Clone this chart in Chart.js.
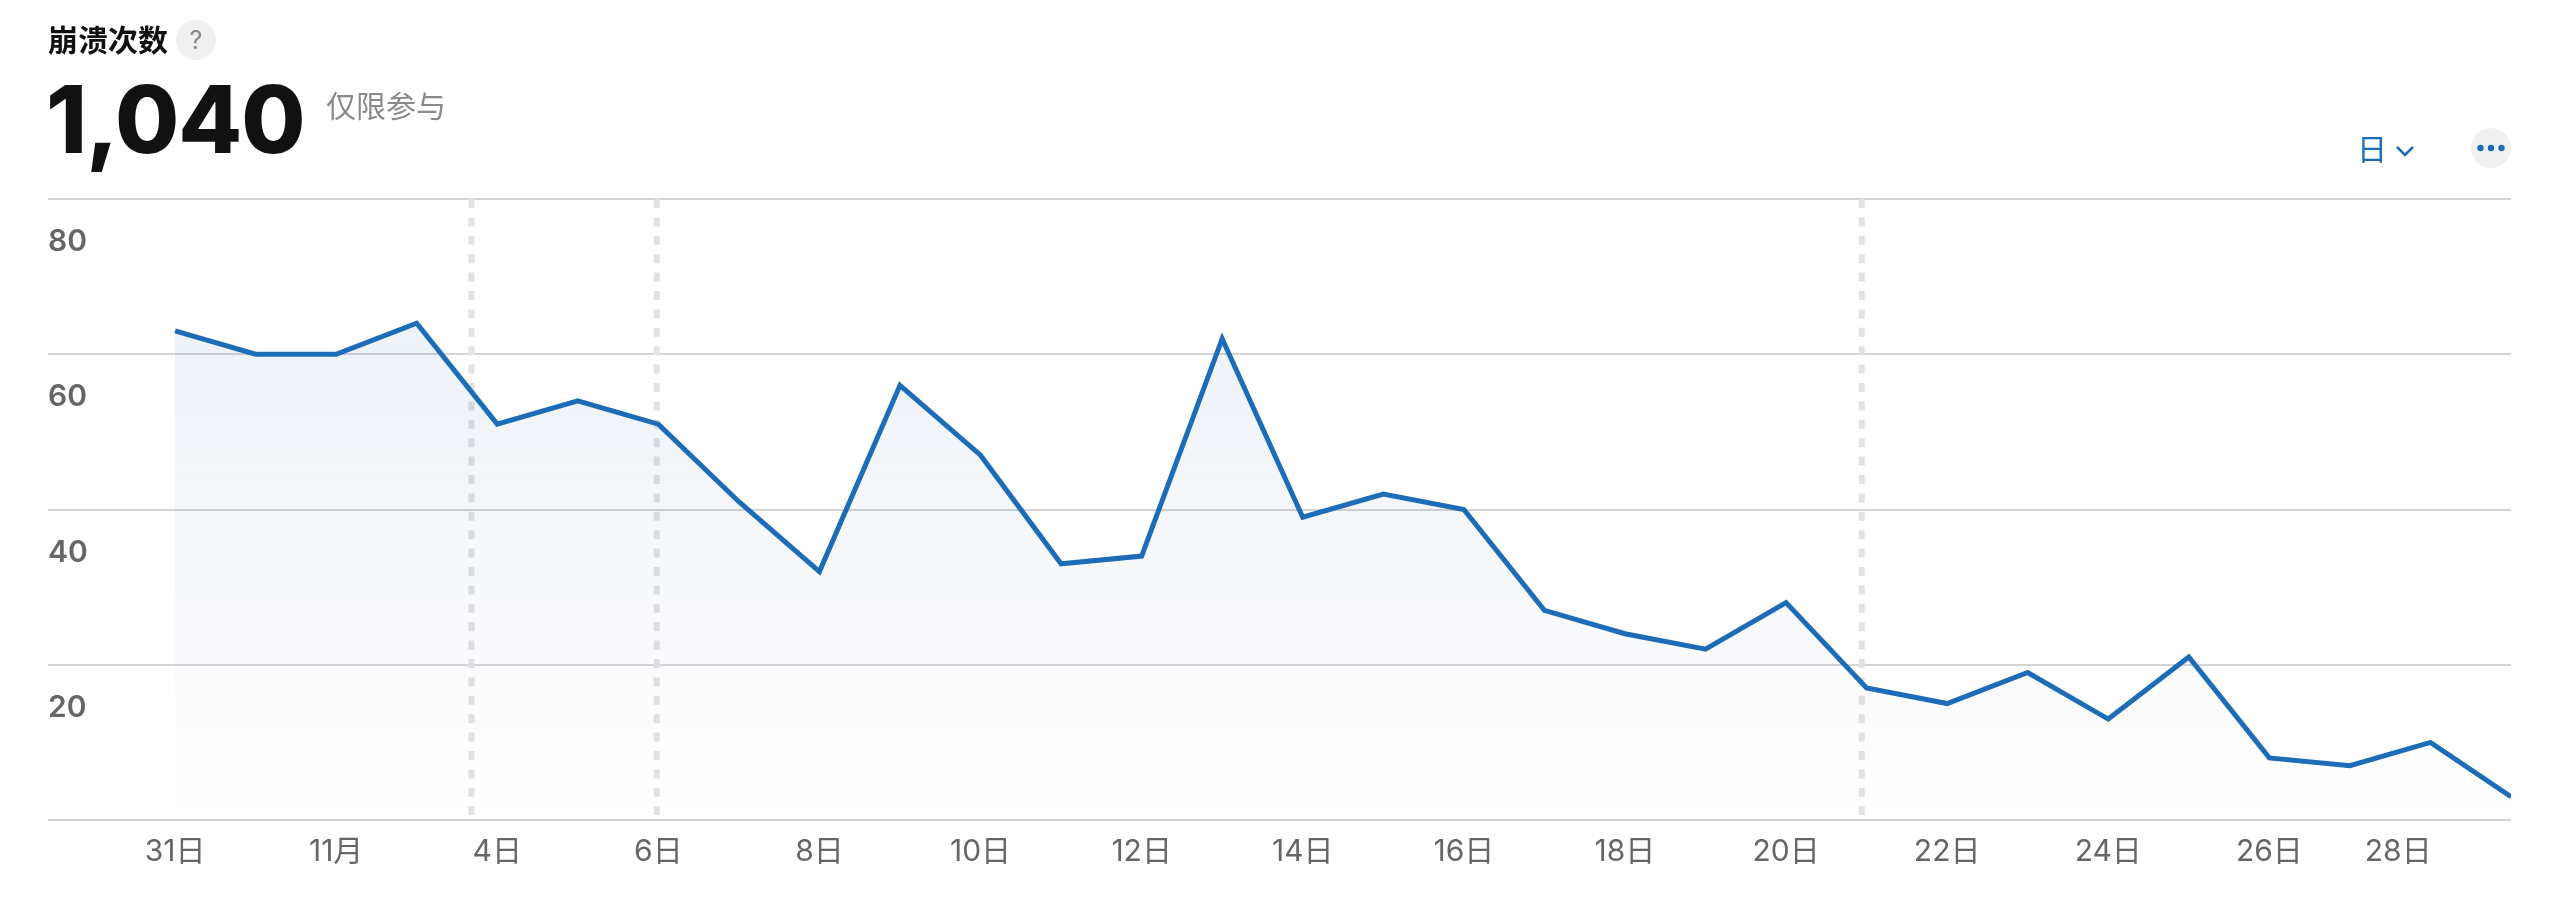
<!DOCTYPE html>
<html lang="zh">
<head>
<meta charset="utf-8">
<title>崩溃次数</title>
<script src="https://cdn.jsdelivr.net/npm/chart.js@4"></script>
<style>
  html, body { margin: 0; background: #fff; width: 2564px; height: 898px; overflow: hidden; }
  body { position: relative; font-family: Inter, "Noto Sans CJK SC", sans-serif; }
  canvas { position: absolute; left: 0; top: 0; }
  .abs { position: absolute; white-space: nowrap; line-height: 1; }
  #title { left: 48px; top: 25px; font-size: 30px; font-weight: 700; color: #111; }
  #help { left: 176px; top: 20px; width: 40px; height: 40px; border-radius: 50%; background: #f0f0f0; color: #8a8a8a; font-size: 25px; text-align: center; line-height: 40px; }
  #total { left: 46px; top: 73px; font-size: 93px; font-weight: 800; color: #111; letter-spacing: -1px; }
  #note { left: 326px; top: 91px; font-size: 30px; color: #8a8a8a; }
  #period { left: 2357px; top: 134px; font-size: 30px; color: #1c6cb8; }
  #chevron { left: 2396px; top: 145px; }
  #more { left: 2471px; top: 128px; width: 40px; height: 40px; border-radius: 50%; background: #f0f0f0; }
</style>
</head>
<body>
<canvas id="crashChart" width="2564" height="898"></canvas>
<div class="abs" id="title">崩溃次数</div>
<div class="abs" id="help">?</div>
<div class="abs" id="total">1,040</div>
<div class="abs" id="note">仅限参与</div>
<div class="abs" id="period">日</div>
<svg class="abs" id="chevron" width="18" height="12" viewBox="0 0 18 12"><path d="M1 2 L9 10 L17 2" fill="none" stroke="#1c6cb8" stroke-width="2.5"/></svg>
<div class="abs" id="more">
  <svg width="40" height="40" viewBox="0 0 40 40" fill="#1c6cb8"><circle cx="9.5" cy="20" r="3.2"/><circle cx="20" cy="20" r="3.2"/><circle cx="30.5" cy="20" r="3.2"/></svg>
</div>
<script>
const crashCounts = [63, 60, 60, 64, 51, 54, 51, 41, 32, 56, 47, 33, 34, 62, 39, 42, 40, 27, 24, 22, 28, 17, 15, 19, 13, 21, 8, 7, 10, 3];
const xTickValues = [0, 2, 4, 6, 8, 10, 12, 14, 16, 18, 20, 22, 24, 26, 27.6];
const xTickLabels = ['31日', '11月', '4日', '6日', '8日', '10日', '12日', '14日', '16日', '18日', '20日', '22日', '24日', '26日', '28日'];
const yTickValues = [0, 20, 40, 60, 80];
const yTickLabels = ['', '20', '40', '60', '80'];
const guideDays = [3.68, 5.98, 20.94];
const guideTop = 80;
const guideBottom = 0.65;

const lineColor = '#1c6cb8';

function areaFill(context) {
    const { ctx, chartArea } = context.chart;
    if (!chartArea) return 'transparent';
    const g = ctx.createLinearGradient(0, 300, 0, chartArea.bottom);
    g.addColorStop(0, 'rgba(28, 100, 180, 0.085)');
    g.addColorStop(0.5, 'rgba(40, 70, 130, 0.04)');
    g.addColorStop(1, 'rgba(40, 70, 130, 0)');
    return g;
}

const guideSets = guideDays.map(d => ({
    data: [{ x: d, y: guideTop }, { x: d, y: guideBottom }],
    borderColor: '#e2e2e2',
    borderWidth: 6,
    borderDash: [9, 9.4],
    pointRadius: 0,
    fill: false,
    order: 2
}));

new Chart(document.getElementById('crashChart'), {
    type: 'line',
    data: {
        datasets: [
            {
                data: crashCounts.map((v, i) => ({ x: i, y: v })),
                borderColor: lineColor,
                borderWidth: 5,
                backgroundColor: areaFill,
                fill: 'origin',
                tension: 0,
                pointRadius: 0,
                order: 1
            },
            ...guideSets
        ]
    },
    options: {
        responsive: false,
        animation: false,
        layout: { padding: { left: 48, right: 53, top: 199, bottom: 0 } },
        plugins: { legend: { display: false }, tooltip: { enabled: false } },
        scales: {
            x: {
                type: 'linear',
                min: -1.577,
                max: 29,
                afterBuildTicks: scale => { scale.ticks = xTickValues.map(v => ({ value: v })); },
                afterFit: scale => { scale.height = 78; },
                grid: { display: false },
                border: { display: false },
                ticks: {
                    autoSkip: false,
                    maxRotation: 0,
                    padding: 6,
                    color: '#666',
                    font: { family: 'Inter, "Noto Sans CJK SC"', size: 30 },
                    callback: (value, index) => xTickLabels[index]
                }
            },
            y: {
                min: 0,
                max: 80,
                afterBuildTicks: scale => { scale.ticks = yTickValues.map(v => ({ value: v })); },
                grid: { color: '#d4d4d4', lineWidth: 2, drawTicks: false },
                border: { display: false },
                ticks: {
                    mirror: true,
                    padding: 0,
                    labelOffset: 43,
                    color: '#666',
                    font: { family: 'Inter', size: 30, weight: '600' },
                    callback: (value, index) => yTickLabels[index]
                }
            }
        }
    }
});
</script>
</body>
</html>
